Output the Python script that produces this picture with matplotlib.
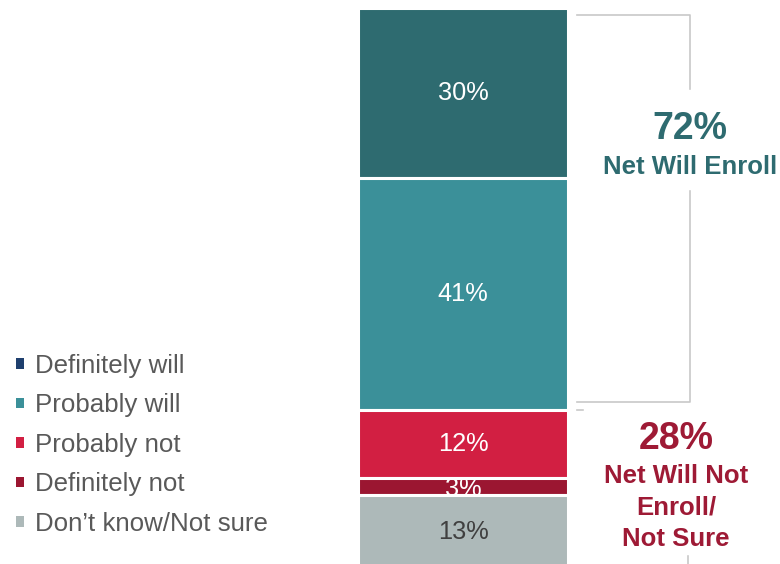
import numpy as np
import matplotlib
matplotlib.use('Agg')
import matplotlib.pyplot as plt
from matplotlib.patches import Patch, Rectangle

plt.rcParams['font.family'] = ['Liberation Sans', 'DejaVu Sans']

# survey answers, top of bar first
categories = ['Definitely will', 'Probably will', 'Probably not', 'Definitely not', "Don\u2019t know/Not sure"]
values = [30, 41, 12, 3, 13]
labels = ['30%', '41%', '12%', '3%', '13%']
bar_colors = ['#2E6B70', '#3B9099', '#D21F42', '#9B1631', '#ADB9B9']
legend_colors = ['#1F3F6E', '#3B9099', '#D21F42', '#9B1631', '#ADB9B9']
label_colors = ['white', 'white', 'white', 'white', '#404040']

net_will = '72%'
net_will_text = 'Net Will Enroll'
net_not = '28%'
net_not_text = 'Net Will Not\nEnroll/\nNot Sure'

TEAL = '#2E6B70'
RED = '#9E1A35'
GRAY = '#C8C8C8'

fig = plt.figure(figsize=(7.8, 5.64), dpi=100)
ax = fig.add_axes([0, 0, 1, 1])
ax.set_xlim(0, 780)
ax.set_ylim(98.2, -1.41)
ax.axis('off')

bar_x = 463
bar_w = 210
starts = np.concatenate(([0], np.cumsum(values)[:-1]))
bars = ax.bar([bar_x] * len(values), values, bottom=starts, width=bar_w,
              color=bar_colors, edgecolor='white', linewidth=2.2, zorder=2)

for b, s, v, lab, c in zip(bars, starts, values, labels, label_colors):
    t = ax.text(bar_x, s + v / 2 + (0.5 if v < 5 else 0), lab, ha='center', va='center',
                fontsize=18.3, color=c, zorder=3)
    t.set_clip_path(b)

# brackets
will_end = values[0] + values[1]
top, bot = 1.2, will_end - 1.4
ax.plot([577, 690, 690, 577], [top, top, bot, bot], color=GRAY, lw=1.2, zorder=1)
top2 = will_end + 0.0
ax.plot([577, 688, 688], [top2, top2, 110], color=GRAY, lw=1.2, zorder=1)

# white boxes behind the annotation text
ax.add_patch(Rectangle((600, 14.5), 180, 17.5, color='white', zorder=1.5))
ax.add_patch(Rectangle((584, 70.2), 196, 26.2, color='white', zorder=1.5))

ax.text(690, 21.4, net_will, ha='center', va='center', fontsize=27,
        fontweight='bold', color=TEAL, zorder=3)
ax.text(690, 28.1, net_will_text, ha='center', va='center', fontsize=18.5,
        fontweight='bold', color=TEAL, zorder=3)
ax.text(676, 76.1, net_not, ha='center', va='center', fontsize=27,
        fontweight='bold', color=RED, zorder=3)
ax.text(676, 88.2, net_not_text, ha='center', va='center', fontsize=18.5,
        fontweight='bold', color=RED, linespacing=1.4, zorder=3)

handles = [Patch(facecolor=c, edgecolor='none') for c in legend_colors]
leg = fig.legend(handles, categories, loc='lower left', bbox_to_anchor=(0.004, 0.027),
                 frameon=False, fontsize=18.6, handlelength=0.3, handleheight=0.22,
                 handletextpad=0.42, labelspacing=0.6, borderpad=0.2,
                 borderaxespad=0.3)
for txt in leg.get_texts():
    txt.set_color('#595959')

fig.savefig('out.png', dpi=100)
